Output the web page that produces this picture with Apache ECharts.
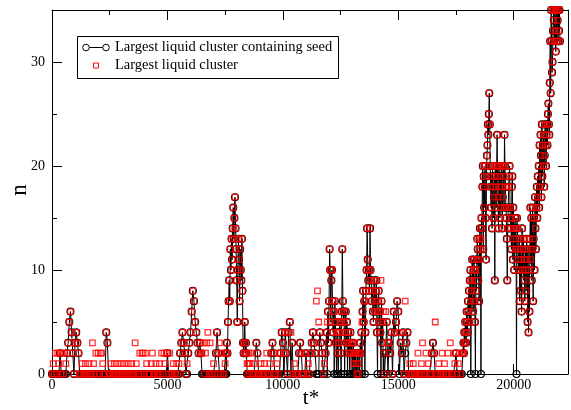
<!DOCTYPE html>
<html>
<head>
<meta charset="utf-8">
<script src="https://cdn.jsdelivr.net/npm/echarts@6/dist/echarts.min.js"></script>
<style>
html,body{margin:0;padding:0;background:#fff;}
#c{width:571px;height:410px;}
</style>
</head>
<body>
<div id="c"></div>
<script>
// The time series is stored in six segments; each has a start time and a sampling step (t* units).
const segmentStart = [0, 7500, 8600, 11900, 14400, 17800];
const segmentStep  = [50, 25, 50, 25, 50, 20];

// Largest liquid cluster containing seed (black circles)
const seedS1 = [0,0,0,0,0,0,0,2,0,0, 0,0,0,2,3,5,6,4,2,0, 3,4,3,2,0,0,0,0,0,0, 0,0,0,0,0,0,0,0,0,0,
                0,0,0,0,0,0,0,4,3,0, 0,0,0,0,0,0,0,0,0,0, 0,0,0,0,0,0,0,0,0,0, 0,0,0,0,0,0,0,0,0,0,
                0,0,0,0,0,0,0,0,0,0, 0,0,0,0,0,0,0,0,0,0, 2,0,0,0,0,0,0,0,0,0, 0,2,3,4,3,2,0,0,2,3,
                4,6,8,7,5,4,3,2,3,2, 0,0,0,0,0,0,0,0,0,0, 0,0,2,4,2,0,0,0,0,0];
const seedS2 = [0,2,0,3,2,5,7,9,7,12, 10,13,11,14,16,13,15,17,14,12, 9,5,10,13,11,7,12,10,9,13,
                8,3,2,3,5,2,3,2,0,0, 0,0,0,0];
const seedS3 = [0,0,0,0,0,3,2,0, 0,0,0,0,0,0,0,0,0,0, 2,3,2,0,0,0,0,0,2,4,
                3,0,4,2,0,4,5,0,3,0, 0,0,0,0,2,3,2,0,0,0, 2,0,0,0,2,3,4,3,2,0, 0,0,4,3,2,0,0,2];
const seedS4 = [4,0,6,3,7,12,10,5,9,10, 7,4,6,0,7,5,3,0,4,2, 0,3,4,5,2,0,6,12,7,5, 6,0,4,6,3,5,0,4,2,3,
                0,4,2,3,0,2,3,0,2,0, 2,0,0,2,0,0,2,0,3,2, 4,0,6,8,5,7,0,4,8,10, 14,11,9,10,8,14,10,9,7,8,
                6,5,9,7,6,8,9,4,0,7, 8,5,6,4,0,7,3,5,0,2];
const seedS5 = [0,2, 5,0,3,2,4,0,6,4,5,7, 6,0,3,2,4,0,2,3,4,0, 0,0,0,0,0,0,0,0,0,0,
                0,0,0,0,0,0,0,0,0,2, 3,2,0,0,0,0,0,0,0,0, 0,0,0,0,0,0,0,0,0,0, 2,0,0,0,0,0];
const seedS6 = [2,3,2,4,3,5,4,3,6,5,4,
                7,6,8,5,9,10,0,7,8,11, 9,6,10,11,7,5,0,10,8,11, 13,12,9,11,7,13,14,12,0,15,
                14,18,20,12,19,16,18,20,15,11, 19,21,22,24,23,25,27,24,20,18, 16,19,14,20,18,15,17,19,9,20,
                18,16,20,23,19,17,14,20,18,15, 19,16,20,18,14,17,20,19,16,23, 20,18,16,15,13,9,14,16,18,19,
                20,16,14,15,12,18,19,11,16,13, 10,14,15,12,13,0,15,14,12,11, 10,13,7,12,8,11,6,14,10,12,
                13,9,11,7,12,10,8,13,11,5, 12,4,10,6,13,16,11,15,9,12, 16,7,13,15,10,17,14,12,16,18,
                15,19,17,20,16,22,18,23,21,17, 24,19,22,20,23,18,21,24,22,20, 23,24,22,25,26,24,23,28,32,27,
                35,32,29,30,33,35,34,32,35,33, 31,35,32,35,34,32,35,33,35,32];

// Largest liquid cluster (red squares)
const largestS1 = [0,1,0,2,0,2,1,2,0,2, 0,2,1,2,3,5,6,4,2,0, 3,4,3,2,0,0,1,0,0,1, 0,0,1,0,0,3,1,0,2,0,
                   2,0,2,2,1,0,0,4,3,0, 0,1,0,0,1,0,0,1,0,0, 1,0,0,1,0,0,1,0,0,1, 0,0,3,1,0,0,2,0,2,2,
                   0,2,1,0,0,0,1,2,0,0, 1,0,0,1,0,2,0,2,1,2, 2,0,2,0,0,1,0,0,1,0, 1,2,3,4,3,2,0,1,2,3,
                   4,6,8,7,5,4,3,2,3,2, 2,3,0,2,3,4,0,3,0,0, 1,0,2,4,2,3,0,2,0,0];
const largestS2 = [1,2,2,3,2,5,7,9,7,12, 10,13,11,14,16,13,15,17,14,12, 9,5,10,13,11,7,12,10,9,13,
                   8,3,2,3,5,2,3,2,1,0, 1,2,0,1];
const largestS3 = [2,0,0,1,0,3,2,0, 0,1,0,0,1,0,2,0,0,1, 2,3,2,0,0,1,0,2,2,4,
                   3,2,4,2,0,4,5,4,3,0, 1,0,0,0,2,3,2,0,0,2, 2,0,1,0,2,3,4,3,2,7, 8,5,4,3,2,0,1,2];
const largestS4 = [4,5,6,3,7,12,10,5,9,10, 7,4,6,6,7,5,3,4,4,2, 3,3,4,5,2,5,6,12,7,5, 6,4,4,6,3,5,3,4,2,3,
                   2,4,2,3,3,2,3,1,2,2, 2,1,0,2,1,0,2,2,3,2, 4,5,6,8,5,7,7,4,8,10, 14,11,9,10,8,14,10,9,7,8,
                   6,5,9,7,6,8,9,4,6,7, 8,5,6,4,9,7,3,5,6,2];
const largestS5 = [0,6, 5,3,3,2,4,0,6,4,5,7, 6,4,3,2,4,0,7,3,4,0, 1,0,0,1,0,0,0,2,0,0,
                   1,3,0,0,2,0,1,0,0,2, 3,2,5,0,0,1,0,0,2,0, 1,0,0,2,0,3,0,0,2,1, 2,0,1,2,0,2];
// In the last segment the largest cluster is the seed's cluster, except at these times [t*, n]
const largestS6Detached = [[18140, 9], [18340, 10], [18580, 13], [20120, 14]];

// Axis settings
const xMin = 0, xMax = 22350, xMajor = 5000, xMinor = 2500;
const yMin = 0, yMax = 35, yMajor = 10, yMinor = 5;
const xTitle = 't*';
const yTitle = 'n';
const seriesNames = ['Largest liquid cluster containing seed', 'Largest liquid cluster'];

function toPairs(seg, arr) {
  return arr.map((n, i) => [segmentStart[seg] + i * segmentStep[seg], n]);
}
const detachedMap = new Map(largestS6Detached.map(p => [p[0], p[1]]));
const largestS6Pairs = toPairs(5, seedS6).map(p => [p[0], detachedMap.has(p[0]) ? detachedMap.get(p[0]) : p[1]]);

const seedData = [].concat(toPairs(0, seedS1), toPairs(1, seedS2), toPairs(2, seedS3),
                           toPairs(3, seedS4), toPairs(4, seedS5), toPairs(5, seedS6));
const largestData = [].concat(toPairs(0, largestS1), toPairs(1, largestS2), toPairs(2, largestS3),
                              toPairs(3, largestS4), toPairs(4, largestS5), largestS6Pairs);

const FONT = "'Liberation Serif', 'DejaVu Serif', serif";

function xAxisDef(position, interval, tickLen, showLabel, showLine) {
  return {
    type: 'value', min: xMin, max: xMax, interval: interval, position: position,
    axisLine: { show: showLine, onZero: false, lineStyle: { color: '#000', width: 1 } },
    axisTick: { show: true, inside: true, length: tickLen, lineStyle: { color: '#000', width: 1 } },
    axisLabel: {
      show: showLabel, margin: 4, color: '#000', fontFamily: FONT, fontSize: 14,
      formatter: v => (v % xMajor === 0 ? String(v) : '')
    },
    splitLine: { show: false }
  };
}
function yAxisDef(position, interval, tickLen, showLabel, showLine) {
  return {
    type: 'value', min: yMin, max: yMax, interval: interval, position: position,
    axisLine: { show: showLine, onZero: false, lineStyle: { color: '#000', width: 1 } },
    axisTick: { show: true, inside: true, length: tickLen, lineStyle: { color: '#000', width: 1 } },
    axisLabel: {
      show: showLabel, margin: 7, color: '#000', fontFamily: FONT, fontSize: 14,
      formatter: v => (v % yMajor === 0 ? String(v) : '')
    },
    splitLine: { show: false }
  };
}

const chart = echarts.init(document.getElementById('c'), null, { renderer: 'canvas', width: 571, height: 410 });
chart.setOption({
  animation: false,
  backgroundColor: '#fff',
  grid: { left: 52, right: 2, top: 10, bottom: 36, containLabel: false },
  xAxis: [
    xAxisDef('bottom', xMajor, 10, true, true),
    xAxisDef('bottom', xMinor, 5, false, false),
    xAxisDef('top', xMajor, 10, false, true),
    xAxisDef('top', xMinor, 5, false, false)
  ],
  yAxis: [
    yAxisDef('left', yMajor, 10, true, true),
    yAxisDef('left', yMinor, 5, false, false),
    yAxisDef('right', yMajor, 10, false, true),
    yAxisDef('right', yMinor, 5, false, false)
  ],
  series: [
    {
      name: seriesNames[0], type: 'line', xAxisIndex: 0, yAxisIndex: 0,
      data: seedData, symbol: 'circle', symbolSize: 7, showSymbol: true, showAllSymbol: true,
      clip: false, z: 2, sampling: null,
      lineStyle: { color: '#000', width: 1 },
      itemStyle: { color: 'rgba(255,255,255,0)', borderColor: '#000', borderWidth: 1.1 },
      emphasis: { disabled: true }
    },
    {
      name: seriesNames[1], type: 'scatter', xAxisIndex: 0, yAxisIndex: 0,
      data: largestData, symbol: 'rect', symbolSize: 5.5, large: false,
      clip: false, z: 3,
      itemStyle: { color: 'rgba(255,255,255,0)', borderColor: '#ff0000', borderWidth: 1.3 },
      emphasis: { disabled: true }
    }
  ],
  graphic: [
    { type: 'text', x: 311, y: 398, style: { text: xTitle, font: "21px " + FONT, fill: '#000', textAlign: 'center', textVerticalAlign: 'middle' } },
    { type: 'text', x: 20, y: 190, rotation: Math.PI / 2, style: { text: yTitle, font: "23px " + FONT, fill: '#000', textAlign: 'center', textVerticalAlign: 'middle' } },
    { type: 'rect', shape: { x: 77.5, y: 36.5, width: 261, height: 42 }, style: { fill: '#fff', stroke: '#000', lineWidth: 1 }, z: 10 },
    { type: 'line', shape: { x1: 86, y1: 47.5, x2: 106, y2: 47.5 }, style: { stroke: '#000', lineWidth: 1 }, z: 11 },
    { type: 'circle', shape: { cx: 86, cy: 47.5, r: 3.3 }, style: { fill: '#fff', stroke: '#000', lineWidth: 1 }, z: 12 },
    { type: 'circle', shape: { cx: 106, cy: 47.5, r: 3.3 }, style: { fill: '#fff', stroke: '#000', lineWidth: 1 }, z: 12 },
    { type: 'rect', shape: { x: 93.5, y: 63, width: 5, height: 5 }, style: { fill: '#fff', stroke: '#ff0000', lineWidth: 1 }, z: 12 },
    { type: 'text', x: 115, y: 47.5, style: { text: seriesNames[0], font: "14.5px " + FONT, fill: '#000', textAlign: 'left', textVerticalAlign: 'middle' }, z: 12 },
    { type: 'text', x: 115, y: 65.5, style: { text: seriesNames[1], font: "14.5px " + FONT, fill: '#000', textAlign: 'left', textVerticalAlign: 'middle' }, z: 12 }
  ]
});
</script>
</body>
</html>
